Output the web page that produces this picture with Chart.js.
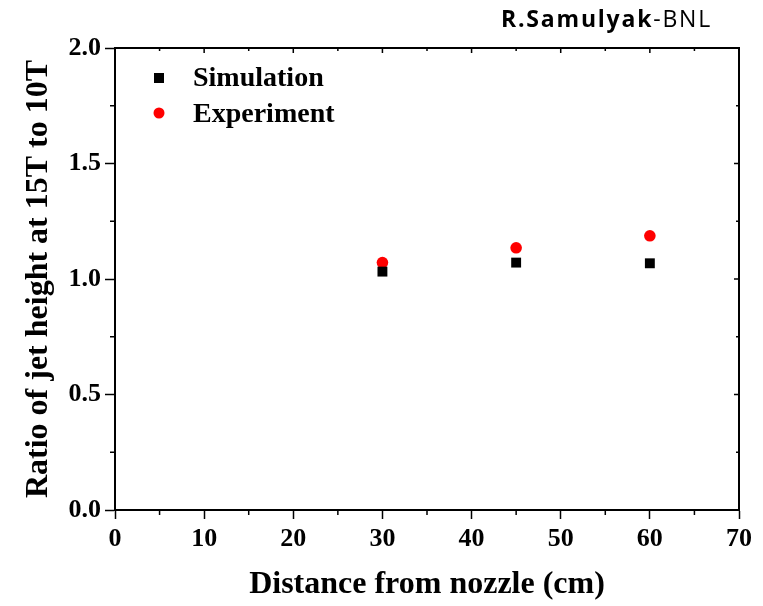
<!DOCTYPE html>
<html>
<head>
<meta charset="utf-8">
<script src="https://cdn.jsdelivr.net/npm/chart.js@4/dist/chart.umd.min.js"></script>
<style>
  html, body { margin: 0; padding: 0; background: #fff; }
  #wrap { position: relative; width: 763px; height: 606px; }
  #credit {
    position: absolute; left: 501px; top: 2px;
    font-family: "Open Sans", "Noto Sans", sans-serif; font-size: 23px; color: #000;
    white-space: nowrap; letter-spacing: 1.8px;
  }
  #credit b { font-weight: bold; }
</style>
</head>
<body>
<div id="wrap">
  <canvas id="jet" width="763" height="606"></canvas>
  <div id="credit"><b>R.Samulyak</b>-BNL</div>
</div>
<script>
// distance from nozzle (cm)
const distances = [30, 45, 60];
// ratio of jet height, 15T vs 10T
const simulation = [1.032, 1.071, 1.068];
const experiment = [1.071, 1.135, 1.187];

const xTicks = [0, 10, 20, 30, 40, 50, 60, 70];
const yTicks = [0.0, 0.5, 1.0, 1.5, 2.0];

const serif = "'Liberation Serif', 'Times New Roman', serif";

// frame, minor ticks and inset legend
const framePlugin = {
  id: 'frame',
  afterDraw(chart) {
    const {ctx, chartArea: a, scales: {x, y}} = chart;
    ctx.save();
    ctx.strokeStyle = '#000';
    ctx.lineWidth = 2;
    ctx.strokeRect(a.left, a.top, a.right - a.left, a.bottom - a.top);

    ctx.lineWidth = 1.5;
    ctx.beginPath();
    for (let v = 0; v <= 70; v += 5) {
      const px = x.getPixelForValue(v);
      const major = v % 10 === 0;
      if (!major) { ctx.moveTo(px, a.bottom); ctx.lineTo(px, a.bottom + 5); }
      ctx.moveTo(px, a.top); ctx.lineTo(px, a.top + (major ? 5 : 3));
    }
    for (let v = 0; v <= 2.0001; v += 0.25) {
      const py = y.getPixelForValue(v);
      const major = Math.abs(v * 2 - Math.round(v * 2)) < 1e-6;
      if (!major) { ctx.moveTo(a.left, py); ctx.lineTo(a.left - 5, py); }
      ctx.moveTo(a.right, py); ctx.lineTo(a.right - (major ? 5 : 3), py);
    }
    ctx.stroke();

    // legend
    ctx.fillStyle = '#000';
    ctx.fillRect(154, 73, 10, 10);
    ctx.fillStyle = '#ff0000';
    ctx.beginPath();
    ctx.arc(159, 113, 5.5, 0, Math.PI * 2);
    ctx.fill();
    ctx.fillStyle = '#000';
    ctx.font = 'bold 28px ' + serif;
    ctx.textBaseline = 'middle';
    ctx.fillText('Simulation', 193, 79);
    ctx.fillText('Experiment', 193, 115);
    ctx.restore();
  }
};

new Chart(document.getElementById('jet'), {
  type: 'scatter',
  data: {
    datasets: [
      {
        label: 'Simulation',
        data: distances.map((d, i) => ({x: d, y: simulation[i]})),
        pointStyle: 'rect',
        pointRadius: 7,
        backgroundColor: '#000',
        borderColor: '#000',
        borderWidth: 0
      },
      {
        label: 'Experiment',
        data: distances.map((d, i) => ({x: d, y: experiment[i]})),
        pointStyle: 'circle',
        pointRadius: 5.8,
        backgroundColor: '#ff0000',
        borderColor: '#ff0000',
        borderWidth: 0
      }
    ]
  },
  options: {
    responsive: false,
    animation: false,
    layout: {padding: {top: 48, right: 24, left: 0, bottom: 0}},
    plugins: {legend: {display: false}, tooltip: {enabled: false}},
    scales: {
      x: {
        type: 'linear',
        min: 0, max: 70,
        afterBuildTicks: s => { s.ticks = xTicks.map(v => ({value: v})); },
        afterFit: s => { s.height = 96; },
        grid: {drawOnChartArea: false, tickLength: 9, color: '#000', tickWidth: 1.5},
        border: {color: '#000', width: 2},
        ticks: {
          color: '#000', padding: 5,
          font: {family: serif, size: 26, weight: 'bold'},
          maxRotation: 0
        },
        title: {
          display: true, text: 'Distance from nozzle (cm)', color: '#000',
          font: {family: serif, size: 32, weight: 'bold'},
          padding: {top: 0, bottom: 2}
        }
      },
      y: {
        type: 'linear',
        min: 0, max: 2,
        afterBuildTicks: s => { s.ticks = yTicks.map(v => ({value: v})); },
        afterFit: s => { s.width = 115; },
        grid: {drawOnChartArea: false, tickLength: 10, color: '#000', tickWidth: 1.5},
        border: {color: '#000', width: 2},
        ticks: {
          color: '#000', padding: 4,
          font: {family: serif, size: 26, weight: 'bold'},
          callback: v => v.toFixed(1)
        },
        title: {
          display: true, text: 'Ratio of jet height at 15T to 10T', color: '#000',
          font: {family: serif, size: 32, weight: 'bold'},
          padding: {top: 20, bottom: 0}
        }
      }
    }
  },
  plugins: [framePlugin]
});
</script>
</body>
</html>
